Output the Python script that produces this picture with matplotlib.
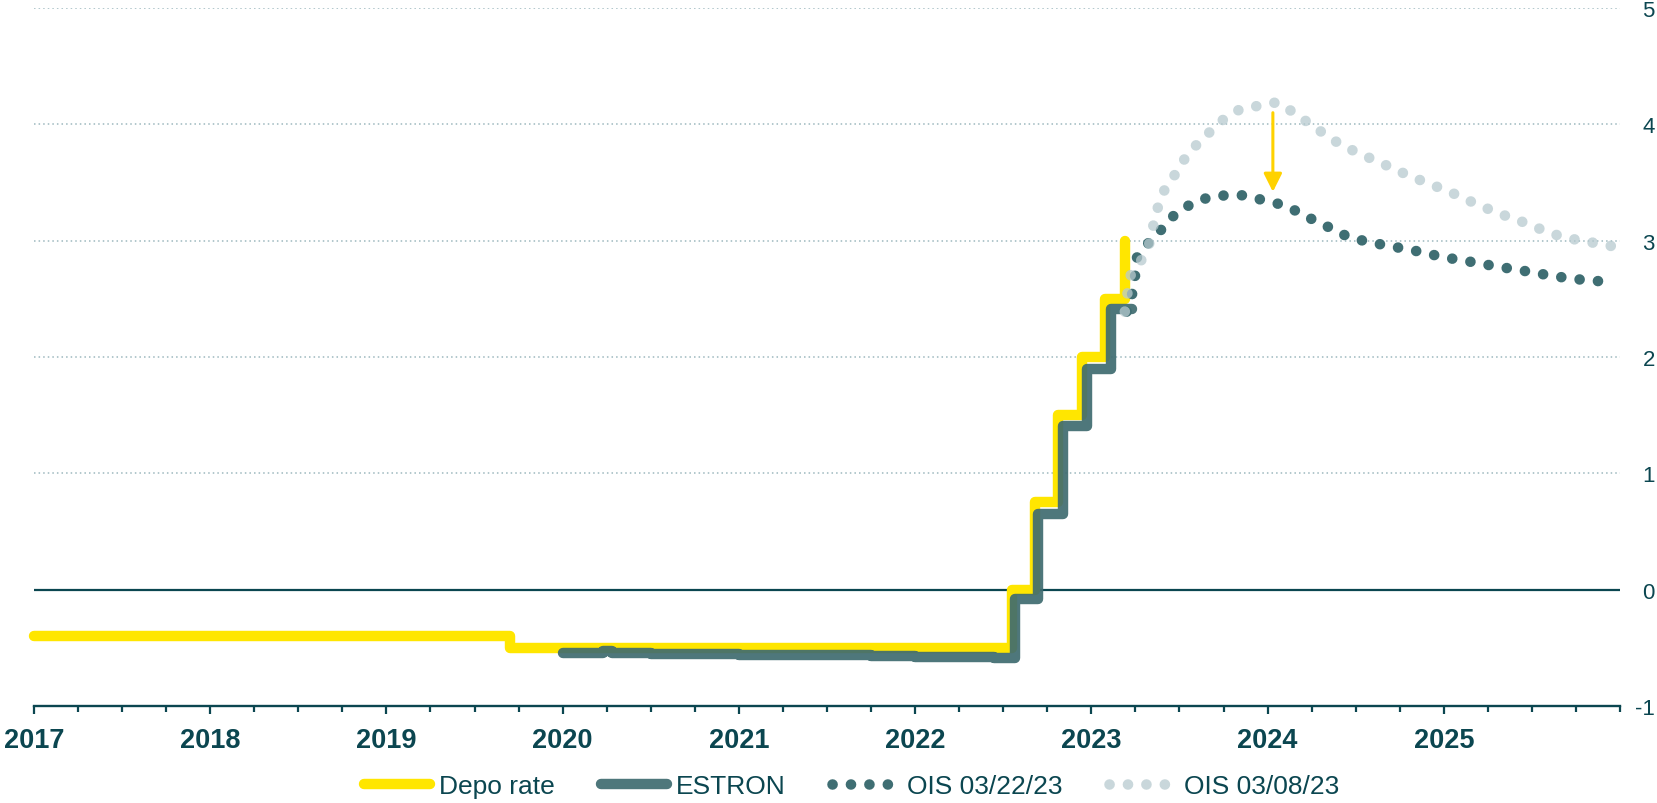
import matplotlib
matplotlib.use("Agg")
import matplotlib.pyplot as plt
from matplotlib.ticker import MultipleLocator, FixedLocator

plt.rcParams['font.family'] = ['Liberation Sans', 'DejaVu Sans']

# ---------------- data (decimal years) ----------------
depo_x = [2017.00, 2019.70, 2022.55, 2022.68, 2022.81, 2022.945, 2023.08, 2023.19]
depo_y = [-0.40, -0.50, 0.00, 0.75, 1.50, 2.00, 2.50, 3.00]

estron_x = [2020.00, 2020.17, 2020.23, 2020.28, 2020.50, 2020.75, 2021.00, 2021.25,
            2021.50, 2021.75, 2022.00, 2022.25, 2022.45, 2022.567, 2022.70, 2022.838,
            2022.974, 2023.11, 2023.23]
estron_y = [-0.54, -0.54, -0.53, -0.545, -0.55, -0.555, -0.56, -0.565,
            -0.565, -0.57, -0.58, -0.58, -0.585, -0.08, 0.65, 1.41,
            1.90, 2.41, 2.41]

ois_0322_x = [2023.20, 2023.235, 2023.25, 2023.26, 2023.33, 2023.40, 2023.47, 2023.56,
              2023.66, 2023.76, 2023.87, 2023.97, 2024.08, 2024.17, 2024.27, 2024.37,
              2024.46, 2024.57, 2024.67, 2024.78, 2024.88, 2024.99, 2025.09, 2025.20,
              2025.30, 2025.42, 2025.53, 2025.63, 2025.74, 2025.85, 2025.97]
ois_0322_y = [2.39, 2.56, 2.72, 2.87, 2.99, 3.10, 3.22, 3.31,
              3.37, 3.39, 3.39, 3.35, 3.31, 3.25, 3.17, 3.10,
              3.03, 2.99, 2.96, 2.93, 2.90, 2.86, 2.835, 2.806,
              2.778, 2.75, 2.72, 2.694, 2.671, 2.655, 2.644]

ois_0308_x = [2023.19, 2023.205, 2023.224, 2023.287, 2023.33, 2023.353, 2023.378, 2023.416,
              2023.475, 2023.532, 2023.60, 2023.676, 2023.755, 2023.844, 2023.95, 2024.054,
              2024.145, 2024.234, 2024.32, 2024.41, 2024.505, 2024.603, 2024.70, 2024.80,
              2024.90, 2025.00, 2025.095, 2025.19, 2025.29, 2025.39, 2025.49, 2025.59,
              2025.71, 2025.82, 2025.93, 2026.00]
ois_0308_y = [2.39, 2.55, 2.71, 2.84, 2.98, 3.14, 3.29, 3.44,
              3.57, 3.71, 3.83, 3.94, 4.05, 4.13, 4.16, 4.19,
              4.105, 4.01, 3.92, 3.83, 3.76, 3.695, 3.63, 3.56,
              3.50, 3.44, 3.38, 3.31, 3.25, 3.19, 3.14, 3.07,
              3.02, 2.99, 2.96, 2.94]

year_ticks = [2017, 2018, 2019, 2020, 2021, 2022, 2023, 2024, 2025]
year_labels = ['2017', '2018', '2019', '2020', '2021', '2022', '2023', '2024', '2025']
y_ticks = [-1, 0, 1, 2, 3, 4, 5]
y_labels = ['-1', '0', '1', '2', '3', '4', '5']

arrow_x = 2024.03
arrow_from = 4.10
arrow_to = 3.42

# ---------------- styles ----------------
C_TEXT = '#0B4650'
C_YEL = '#FFE600'
C_GRAY = '#3F6B70'
C_OIS_D = '#3F6E73'
C_OIS_L = '#B7CACF'
C_GRID = '#9DB8BE'
C_ARROW = '#FFD200'

fig = plt.figure(figsize=(16.57, 8.04), dpi=100)
ax = fig.add_axes([0.0205, 0.1206, 0.9572, 0.8682])

LW = 7.5
DOT_LW = 7.6
dotted = (0, (0.01, 13.2 / DOT_LW))

ax.plot(depo_x, depo_y, drawstyle='steps-post', color=C_YEL, lw=LW,
        solid_capstyle='round', solid_joinstyle='round', zorder=3, clip_on=False,
        label='Depo rate')
ax.plot(estron_x, estron_y, drawstyle='steps-post', color=C_GRAY, lw=LW, alpha=0.92,
        solid_capstyle='round', solid_joinstyle='round', zorder=4, label='ESTRON')
ax.plot(ois_0322_x, ois_0322_y, color=C_OIS_D, lw=DOT_LW, linestyle=dotted,
        dash_capstyle='round', zorder=5, label='OIS 03/22/23')
ax.plot(ois_0308_x, ois_0308_y, color=C_OIS_L, lw=DOT_LW, linestyle=dotted, alpha=0.75,
        dash_capstyle='round', zorder=6, label='OIS 03/08/23')

ax.annotate('', xy=(arrow_x, arrow_to), xytext=(arrow_x, arrow_from),
            arrowprops=dict(arrowstyle='-|>,head_length=1.1,head_width=0.55',
                            color=C_ARROW, lw=2.2, shrinkA=0, shrinkB=0), zorder=7)

ax.axhline(0, color=C_TEXT, lw=1.6, zorder=2)

ax.set_xlim(2017, 2026)
ax.set_ylim(-1, 5)

# grid
for y in [1, 2, 3, 4, 5]:
    ax.axhline(y, color=C_GRID, lw=1.1, linestyle=(0, (1, 2.0)), zorder=1)

for s in ['left', 'right', 'top']:
    ax.spines[s].set_visible(False)
ax.spines['bottom'].set_color(C_TEXT)
ax.spines['bottom'].set_linewidth(1.7)

ax.xaxis.set_major_locator(FixedLocator(year_ticks))
ax.set_xticklabels(year_labels)
ax.xaxis.set_minor_locator(MultipleLocator(0.25))
ax.tick_params(axis='x', which='major', length=6, width=1.6, color=C_TEXT,
               labelsize=19.5, labelcolor=C_TEXT, pad=9)
ax.tick_params(axis='x', which='minor', length=4.5, width=1.6, color=C_TEXT)
for lab in ax.get_xticklabels():
    lab.set_fontweight('bold')

ax.yaxis.tick_right()
ax.set_yticks(y_ticks)
ax.set_yticklabels(y_labels)
ax.tick_params(axis='y', which='both', length=0, labelsize=16, labelcolor=C_TEXT, pad=25)
for lab in ax.get_yticklabels():
    lab.set_horizontalalignment('right')

leg = fig.legend(loc='center', bbox_to_anchor=(0.514, 0.021), ncol=4, frameon=False,
                 fontsize=19, handlelength=2.5, handletextpad=0.35, columnspacing=1.75,
                 borderpad=0, borderaxespad=0)
for t in leg.get_texts():
    t.set_color(C_TEXT)

fig.savefig('out.png', dpi=100)
